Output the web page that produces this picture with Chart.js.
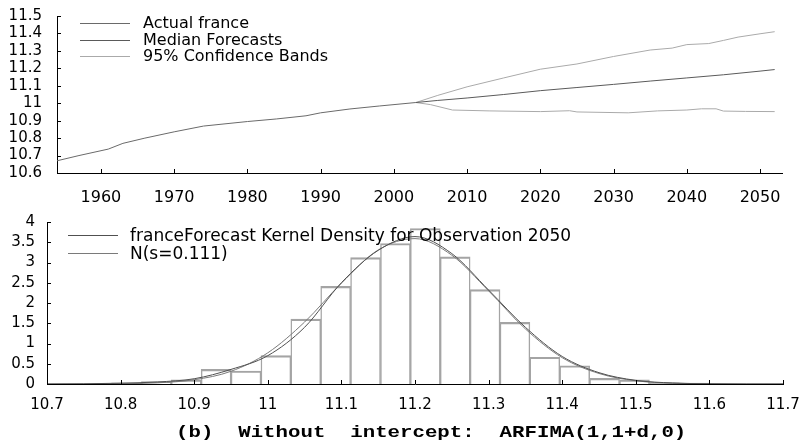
<!DOCTYPE html>
<html>
<head>
<meta charset="utf-8">
<script src="https://cdn.jsdelivr.net/npm/chart.js@4.4.1/dist/chart.umd.min.js"></script>
<style>
  body { margin: 0; background: #fff; }
  #wrap { position: relative; width: 806px; height: 448px; overflow: hidden; font-family: "DejaVu Sans", sans-serif; }
  canvas { position: absolute; left: 0; }
  .legend { position: absolute; left: 0; color: #000; }
  .legend .row { position: relative; white-space: nowrap; }
  .legend .swatch { position: absolute; top: 50%; height: 0; border-top: 1px solid; }
  .legend .text { position: absolute; top: 50%; transform: translateY(-50%); line-height: 1; }
  #caption { position: absolute; left: 176px; top: 423px; font: bold 17px "Liberation Mono", monospace;
             white-space: pre; transform: scaleX(1.22); transform-origin: 0 0; color: #000; }
</style>
</head>
<body>
<div id="wrap">
  <canvas id="top" width="806" height="205" style="top:0"></canvas>
  <canvas id="bottom" width="806" height="243" style="top:205px"></canvas>
  <div id="legendTop" class="legend" style="top:14.75px"></div>
  <div id="legendBottom" class="legend" style="top:226.25px"></div>
  <div id="caption">(b)  Without  intercept:  ARFIMA(1,1+d,0)</div>
</div>
<script>
// ---- top panel: actual series and forecasts ----
const actualYears  = [1954, 1957, 1961, 1963, 1966, 1970, 1974, 1980, 1984, 1988, 1990, 1994, 1998, 2003];
const actualValues = [10.670, 10.700, 10.737, 10.770, 10.800, 10.836, 10.869, 10.895, 10.910, 10.928, 10.945, 10.967, 10.984, 11.004];

const medianYears  = [2003, 2006, 2010, 2015, 2020, 2025, 2030, 2035, 2040, 2045, 2050, 2052];
const medianValues = [11.004, 11.016, 11.030, 11.050, 11.072, 11.090, 11.108, 11.127, 11.145, 11.163, 11.184, 11.193];

const upperYears  = [2003, 2006, 2010, 2015, 2020, 2025, 2030, 2035, 2038, 2040, 2043, 2045, 2047, 2050, 2052];
const upperValues = [11.004, 11.045, 11.094, 11.145, 11.195, 11.225, 11.268, 11.305, 11.316, 11.336, 11.342, 11.360, 11.379, 11.398, 11.410];

const lowerYears  = [2003, 2005, 2008, 2013, 2020, 2024, 2025, 2032, 2036, 2040, 2042, 2044, 2045, 2048, 2052];
const lowerValues = [11.004, 10.992, 10.961, 10.956, 10.952, 10.957, 10.950, 10.945, 10.956, 10.961, 10.968, 10.968, 10.955, 10.953, 10.952];

const yearTicks = [1960, 1970, 1980, 1990, 2000, 2010, 2020, 2030, 2040, 2050];
const levelTicks = [10.6, 10.7, 10.8, 10.9, 11.0, 11.1, 11.2, 11.3, 11.4, 11.5];

// ---- bottom panel: forecast density for 2050 ----
const binCenters = [10.808, 10.8486, 10.8892, 10.9298, 10.9704, 11.011, 11.0516, 11.0922, 11.1328, 11.1734,
                    11.214, 11.2546, 11.2952, 11.3358, 11.3764, 11.417, 11.4576, 11.4982, 11.5388, 11.5794];
const binHeights = [0.03, 0.06, 0.10, 0.36, 0.32, 0.70, 1.60, 2.41, 3.12, 3.47,
                    3.84, 3.14, 2.33, 1.52, 0.66, 0.45, 0.14, 0.10, 0.03, 0.02];

const densityX = [10.70, 10.75, 10.80, 10.85, 10.90, 10.95, 11.00, 11.05, 11.10, 11.15, 11.20,
                  11.25, 11.30, 11.35, 11.40, 11.45, 11.50, 11.55, 11.60, 11.65, 11.70];
const kernelValues = [0.0, 0.005, 0.02, 0.05, 0.13, 0.36, 0.70, 1.40, 2.50, 3.30, 3.64,
                      3.22, 2.32, 1.40, 0.68, 0.28, 0.09, 0.025, 0.005, 0.0, 0.0];
const normalValues = [0.0, 0.001, 0.006, 0.029, 0.105, 0.314, 0.77, 1.53, 2.49, 3.31, 3.59,
                      3.18, 2.30, 1.36, 0.65, 0.26, 0.08, 0.02, 0.005, 0.001, 0.0];

const xTicksDensity = [10.7, 10.8, 10.9, 11.0, 11.1, 11.2, 11.3, 11.4, 11.5, 11.6, 11.7];
const yTicksDensity = [0, 0.5, 1, 1.5, 2, 2.5, 3, 3.5, 4];

const pts = (xs, ys) => xs.map((x, i) => ({ x: x, y: ys[i] }));
const fmt = v => String(+v.toFixed(1));

// small tick marks drawn inside the axes
const innerTicks = {
    id: 'innerTicks',
    afterDraw(chart, args, opts) {
        const { ctx, chartArea, scales } = chart;
        ctx.save();
        ctx.strokeStyle = '#000';
        ctx.lineWidth = 1;
        ctx.beginPath();
        scales.x.ticks.forEach(t => {
            const px = Math.round(scales.x.getPixelForValue(t.value)) + 0.5;
            ctx.moveTo(px, chartArea.bottom);
            ctx.lineTo(px, chartArea.bottom - opts.len);
        });
        scales.y.ticks.forEach(t => {
            const py = Math.round(scales.y.getPixelForValue(t.value)) + 0.5;
            ctx.moveTo(chartArea.left, py);
            ctx.lineTo(chartArea.left + opts.len, py);
        });
        ctx.stroke();
        ctx.restore();
    }
};

function axis(min, max, tickValues, opts) {
    return {
        type: 'linear', min: min, max: max, offset: false,
        grid: { display: false },
        border: { display: true, color: '#000', width: 1 },
        afterBuildTicks: s => { s.ticks = tickValues.map(v => ({ value: v })); },
        ticks: { color: '#000', font: { family: 'DejaVu Sans', size: opts.size }, padding: opts.padding,
                 maxRotation: 0, autoSkip: false, callback: opts.format },
        afterFit: opts.fit
    };
}

const topChart = new Chart(document.getElementById('top'), {
    type: 'line',
    data: {
        datasets: [
            { label: 'Actual france', data: pts(actualYears, actualValues), borderColor: '#6a6a6a' },
            { label: 'Median Forecasts', data: pts(medianYears, medianValues), borderColor: '#5a5a5a' },
            { label: '95% Confidence Bands', data: pts(upperYears, upperValues), borderColor: '#aaaaaa' },
            { label: '95% Confidence Bands', hideInLegend: true, data: pts(lowerYears, lowerValues), borderColor: '#aaaaaa' }
        ]
    },
    options: {
        responsive: false, animation: false, devicePixelRatio: 1,
        layout: { padding: { top: 10, right: 24, left: 0, bottom: 0 } },
        elements: { point: { radius: 0 }, line: { tension: 0, borderWidth: 1 } },
        plugins: { legend: { display: false }, tooltip: { enabled: false }, innerTicks: { len: 4 } },
        scales: {
            x: axis(1954, 2053, yearTicks, { size: 16, padding: 7, format: v => String(v), fit: s => { s.height = 32; } }),
            y: axis(10.6, 11.5, levelTicks, { size: 15, padding: 7, format: fmt, fit: s => { s.width = 57; } })
        }
    },
    plugins: [innerTicks]
});

const bottomChart = new Chart(document.getElementById('bottom'), {
    type: 'line',
    data: {
        datasets: [
            { type: 'bar', label: 'histogram', hideInLegend: true, data: pts(binCenters, binHeights),
              backgroundColor: 'rgba(0,0,0,0)', borderColor: '#a4a4a4',
              borderWidth: { top: 1.5, left: 0.8, right: 0.8, bottom: 0 }, borderSkipped: false,
              barPercentage: 1, categoryPercentage: 1, order: 2 },
            { label: 'franceForecast Kernel Density for Observation 2050', data: pts(densityX, kernelValues),
              borderColor: '#505050', cubicInterpolationMode: 'monotone', order: 1 },
            { label: 'N(s=0.111)', data: pts(densityX, normalValues),
              borderColor: '#7a7a7a', cubicInterpolationMode: 'monotone', order: 1 }
        ]
    },
    options: {
        responsive: false, animation: false, devicePixelRatio: 1,
        layout: { padding: { top: 17, right: 23, left: 0, bottom: 0 } },
        elements: { point: { radius: 0 }, line: { borderWidth: 1 } },
        plugins: { legend: { display: false }, tooltip: { enabled: false }, innerTicks: { len: 4 } },
        scales: {
            x: axis(10.7, 11.7, xTicksDensity, { size: 15, padding: 4, format: fmt, fit: s => { s.height = 64; } }),
            y: axis(0, 4, yTicksDensity, { size: 15, padding: 4, format: v => String(v), fit: s => { s.width = 47; } })
        }
    },
    plugins: [innerTicks]
});

// legends built from the chart datasets
function buildLegend(chart, el, o) {
    chart.data.datasets.filter(d => !d.hideInLegend).forEach(d => {
        const row = document.createElement('div');
        row.className = 'row';
        row.style.height = o.rowH + 'px';
        const sw = document.createElement('div');
        sw.className = 'swatch';
        sw.style.left = o.lineX + 'px';
        sw.style.width = o.lineW + 'px';
        sw.style.borderTopColor = d.borderColor;
        const tx = document.createElement('div');
        tx.className = 'text';
        tx.style.left = o.textX + 'px';
        tx.style.fontSize = o.size + 'px';
        tx.textContent = d.label;
        row.appendChild(sw);
        row.appendChild(tx);
        el.appendChild(row);
    });
}
buildLegend(topChart, document.getElementById('legendTop'), { rowH: 16.5, lineX: 80, lineW: 50, textX: 143, size: 16 });
buildLegend(bottomChart, document.getElementById('legendBottom'), { rowH: 17.5, lineX: 68, lineW: 50, textX: 130, size: 17 });
</script>
</body>
</html>
